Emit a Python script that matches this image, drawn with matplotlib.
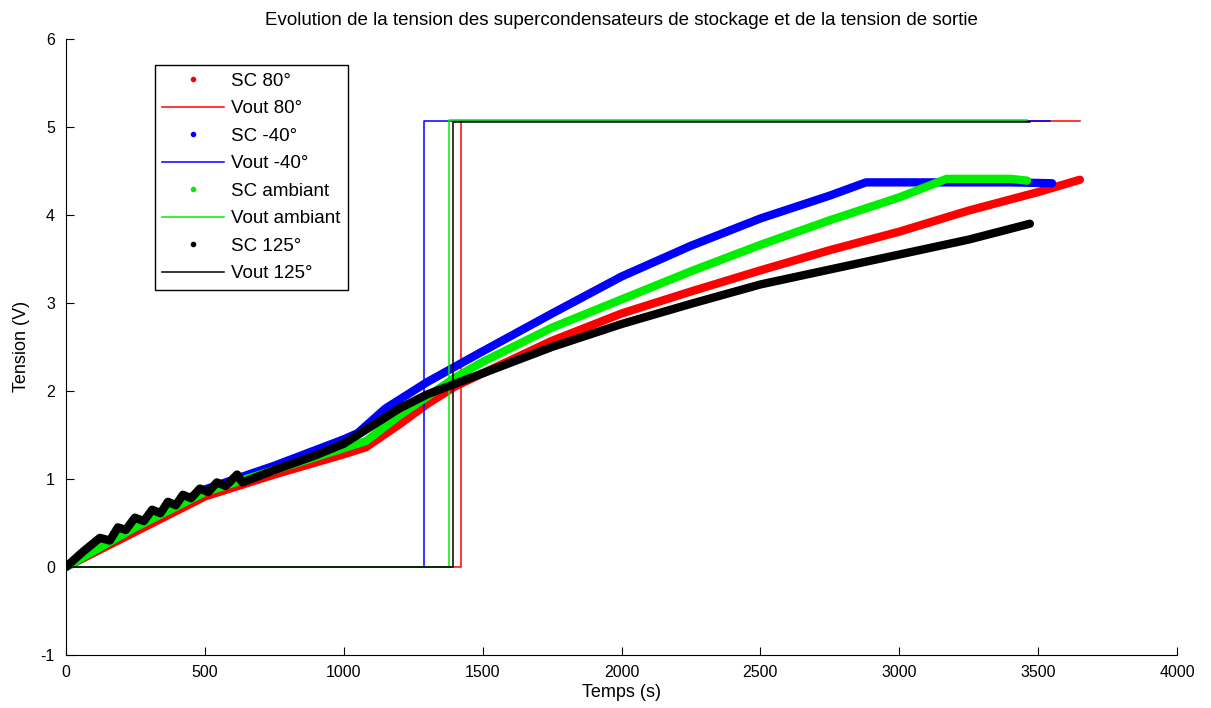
import numpy as np
import matplotlib.pyplot as plt
from matplotlib.lines import Line2D

plt.rcParams['font.family'] = ['Liberation Sans', 'DejaVu Sans']
plt.rcParams['axes.unicode_minus'] = False

# tension des supercondensateurs (SC)
t_sc80 = [0, 250, 500, 750, 1000, 1080, 1200, 1300, 1400, 1500, 1750, 2000, 2250, 2500, 2750, 3000, 3250, 3500, 3650]
v_sc80 = [0, 0.4, 0.8, 1.05, 1.28, 1.36, 1.62, 1.85, 2.05, 2.2, 2.57, 2.88, 3.13, 3.37, 3.6, 3.81, 4.05, 4.26, 4.4]

t_sc40 = [0, 250, 500, 750, 1000, 1050, 1150, 1300, 1500, 1750, 2000, 2250, 2500, 2750, 2880, 3000, 3200, 3400, 3550]
v_sc40 = [0, 0.45, 0.88, 1.15, 1.45, 1.52, 1.8, 2.1, 2.45, 2.88, 3.3, 3.65, 3.96, 4.22, 4.37, 4.37, 4.37, 4.37, 4.36]

t_scamb = [0, 250, 500, 750, 1000, 1080, 1200, 1400, 1500, 1750, 2000, 2250, 2500, 2750, 3000, 3170, 3300, 3400, 3460]
v_scamb = [0, 0.45, 0.85, 1.1, 1.35, 1.43, 1.72, 2.15, 2.33, 2.72, 3.04, 3.36, 3.66, 3.94, 4.2, 4.41, 4.41, 4.41, 4.39]

t_sc125 = [0, 60, 122, 158, 187, 215, 248, 280, 310, 340, 367, 395, 421, 450, 482, 512, 543, 575, 616, 635,
           750, 900, 1000, 1100, 1200, 1300, 1400, 1500, 1750, 2000, 2250, 2500, 2750, 3000, 3250, 3470]
v_sc125 = [0, 0.17, 0.33, 0.3, 0.45, 0.42, 0.56, 0.52, 0.65, 0.61, 0.74, 0.7, 0.82, 0.78, 0.89, 0.85, 0.96, 0.92, 1.05, 0.96,
           1.1, 1.27, 1.4, 1.6, 1.8, 1.96, 2.08, 2.2, 2.5, 2.76, 2.99, 3.21, 3.38, 3.55, 3.72, 3.9]

# tension de sortie (Vout) : commutation 0 -> ~5.07 V
t_on = {'80': 1422, '-40': 1289, 'amb': 1379, '125': 1393}
t_end = {'80': 3651, '-40': 3543, 'amb': 3460, '125': 3470}
v_haut = {'80': 5.07, '-40': 5.07, 'amb': 5.075, '125': 5.06}

couleurs = {'80': 'red', '-40': 'blue', 'amb': '#00ee00', '125': 'black'}
series = [('80', t_sc80, v_sc80, 'SC 80°', 'Vout 80°'),
          ('-40', t_sc40, v_sc40, 'SC -40°', 'Vout -40°'),
          ('amb', t_scamb, v_scamb, 'SC ambiant', 'Vout ambiant'),
          ('125', t_sc125, v_sc125, 'SC 125°', 'Vout 125°')]

fig = plt.figure(figsize=(12.11, 7.08), dpi=100)
ax = fig.add_axes([0.0545, 0.075, 0.9175, 0.87])

handles = []
for cle, t, v, lab_sc, lab_out in series:
    c = couleurs[cle]
    ax.plot(t, v, color=c, lw=6, solid_capstyle='round', solid_joinstyle='round')
    ts = t_on[cle]
    ax.plot([0, ts, ts, t_end[cle]], [0, 0, v_haut[cle], v_haut[cle]], color=c, lw=1.1)
    handles.append(Line2D([], [], color=c, marker='.', ls='none', markersize=6, label=lab_sc))
    handles.append(Line2D([], [], color=c, lw=1.1, label=lab_out))

ax.set_xlim(0, 4000)
ax.set_ylim(-1, 6)
ax.set_xticks(np.arange(0, 4001, 500))
ax.set_yticks(np.arange(-1, 7, 1))
ax.spines['top'].set_visible(False)
ax.spines['right'].set_visible(False)
ax.tick_params(direction='in', length=6, labelsize=11.5)
ax.tick_params(axis='x', pad=7)
ax.tick_params(axis='y', pad=8)
ax.set_xlabel('Temps (s)', fontsize=13, labelpad=3)
ax.set_ylabel('Tension (V)', fontsize=13, labelpad=8)
ax.set_title('Evolution de la tension des supercondensateurs de stockage et de la tension de sortie',
             fontsize=13.5, pad=10)

leg = ax.legend(handles=handles, loc='upper left', bbox_to_anchor=(0.08, 0.957), borderaxespad=0,
                fontsize=13.5, handlelength=3.3, handletextpad=0.35, labelspacing=0.55,
                fancybox=False, edgecolor='black', framealpha=1, borderpad=0.4)
leg.get_frame().set_linewidth(1.0)

fig.savefig('out.png', dpi=100)
